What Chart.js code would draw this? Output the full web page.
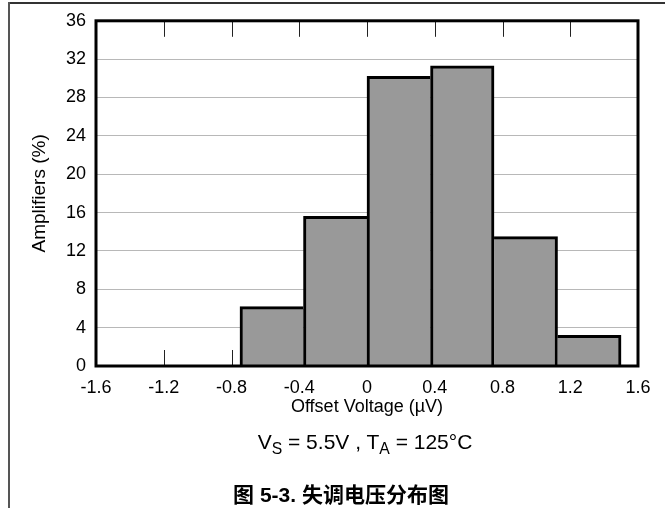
<!DOCTYPE html>
<html>
<head>
<meta charset="utf-8">
<script src="https://cdn.jsdelivr.net/npm/chart.js@4/dist/chart.umd.min.js"></script>
<style>
  html, body { margin: 0; padding: 0; background: #fff; }
  #wrap { position: relative; width: 665px; height: 508px; overflow: hidden; }
  #chart { position: absolute; left: 0; top: 0; }
  .rule-top { position: absolute; left: 9px; top: 2px; width: 656px; height: 0; border-top: 2px solid #333; }
  .rule-left { position: absolute; left: 8px; top: 2px; width: 0; height: 506px; border-left: 2px solid #555; }
  .cond { position: absolute; left: 165px; width: 400px; top: 429px; text-align: center;
          font: 21px Arial, "Liberation Sans", sans-serif; line-height: 26px; color: #000; }
  .cond sub { font-size: 0.75em; line-height: 0; vertical-align: -0.3em; }
  .caption { position: absolute; left: 141px; width: 400px; top: 482px; text-align: center;
             font: bold 21px Arial, "Liberation Sans", "Noto Sans CJK SC", sans-serif; line-height: 26px; color: #000; }
</style>
</head>
<body>
<div id="wrap">
  <canvas id="chart" width="665" height="508"></canvas>
  <div class="rule-top"></div>
  <div class="rule-left"></div>
  <div class="cond">V<sub>S</sub> = 5.5V , T<sub>A</sub> = 125°C</div>
  <div class="caption">图 5-3. 失调电压分布图</div>
</div>
<script>
// histogram bins (offset voltage, µV) and share of amplifiers (%)
const binEdges = [-0.75, -0.375, 0, 0.375, 0.75, 1.125, 1.5];
const amplifiers = [6.2, 15.6, 30.2, 31.3, 13.5, 3.2];
const xTicks = [-1.6, -1.2, -0.8, -0.4, 0, 0.4, 0.8, 1.2, 1.6];
const yTicks = [0, 4, 8, 12, 16, 20, 24, 28, 32, 36];

const points = amplifiers.map((v, i) => ({ x: (binEdges[i] + binEdges[i + 1]) / 2, y: v }));

Chart.defaults.color = '#000';
Chart.defaults.font.family = 'Arial, "Liberation Sans", sans-serif';

// frame around the plot and inward tick marks
const framePlugin = {
  id: 'frame',
  beforeDatasetsDraw(chart) {
    const { ctx, chartArea: a } = chart;
    const xs = chart.scales.x;
    ctx.save();
    ctx.strokeStyle = '#222';
    ctx.lineWidth = 1;
    xTicks.slice(1, -1).forEach(v => {
      const px = Math.round(xs.getPixelForValue(v)) + 0.5;
      ctx.beginPath();
      ctx.moveTo(px, a.top);
      ctx.lineTo(px, a.top + 16);
      ctx.moveTo(px, a.bottom);
      ctx.lineTo(px, a.bottom - 16);
      ctx.stroke();
    });
    ctx.restore();
  },
  afterDatasetsDraw(chart) {
    const { ctx, chartArea: a } = chart;
    ctx.save();
    ctx.strokeStyle = '#000';
    ctx.lineWidth = 3;
    ctx.strokeRect(a.left, a.top, a.right - a.left, a.bottom - a.top);
    ctx.restore();
  }
};

new Chart(document.getElementById('chart'), {
  type: 'bar',
  data: {
    datasets: [{
      data: points,
      backgroundColor: '#999999',
      borderColor: '#000',
      // draw each shared edge once, on the taller bar
      borderWidth: function(c) {
        const i = c.dataIndex;
        const n = amplifiers.length;
        return {
          top: 3,
          bottom: 0,
          left: (i === 0 || amplifiers[i] >= amplifiers[i - 1]) ? 3 : 0,
          right: (i === n - 1 || amplifiers[i] > amplifiers[i + 1]) ? 3 : 0
        };
      },
      borderSkipped: false,
      barPercentage: 1,
      categoryPercentage: 1,
      grouped: false
    }]
  },
  options: {
    responsive: false,
    animation: false,
    events: [],
    layout: { padding: { top: 20, right: 27, bottom: 90, left: 0 } },
    plugins: { legend: { display: false }, tooltip: { enabled: false } },
    scales: {
      x: {
        type: 'linear',
        min: -1.6,
        max: 1.6,
        offset: false,
        afterBuildTicks: s => { s.ticks = xTicks.map(v => ({ value: v })); },
        afterFit: s => { s.height = 52; },
        ticks: {
          font: { size: 18 },
          padding: 3,
          maxRotation: 0,
          autoSkip: false,
          callback: v => String(v)
        },
        grid: { display: false, offset: false },
        border: { display: false },
        title: {
          display: true,
          text: 'Offset Voltage (µV)',
          font: { size: 18 },
          padding: { top: 0, bottom: 0 }
        }
      },
      y: {
        min: 0,
        max: 36,
        afterBuildTicks: s => { s.ticks = yTicks.map(v => ({ value: v })); },
        afterFit: s => { s.width = 96; },
        ticks: { font: { size: 18 }, padding: 10 },
        grid: { color: '#b8b8b8', lineWidth: 1, drawTicks: false },
        border: { display: false },
        title: {
          display: true,
          text: 'Amplifiers (%)',
          font: { size: 19 },
          padding: { top: 28, bottom: 0 }
        }
      }
    }
  },
  plugins: [framePlugin]
});
</script>
</body>
</html>
